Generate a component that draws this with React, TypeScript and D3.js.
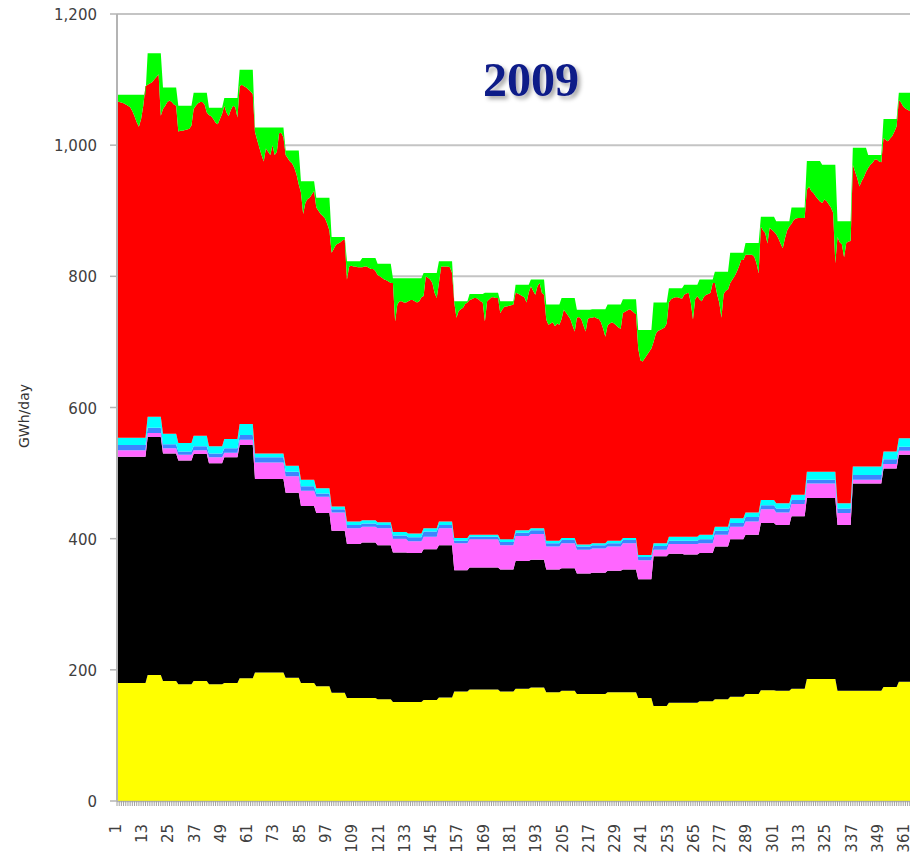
import React, { useRef, useEffect } from 'react';
import * as d3 from 'd3';

// weekly levels (top of each stacked band, GWh/day), week 1 = days 1-7
const yellowTop = [180, 180, 192, 183, 178, 183, 178, 180, 187, 196, 196, 188, 180, 175, 165, 157, 157, 155, 151, 151, 154, 158, 167, 170, 170, 167, 171, 173, 166, 168, 163, 163, 166, 166, 157, 145, 150, 150, 152, 155, 159, 163, 169, 168, 171, 186, 186, 168, 168, 168, 174, 182, 182];
const blackTop = [525, 525, 555, 530, 519, 529, 515, 524, 543, 491, 491, 470, 450, 439, 412, 392, 394, 390, 379, 378, 384, 390, 352, 356, 356, 353, 366, 368, 353, 355, 347, 348, 351, 353, 338, 373, 377, 376, 378, 388, 399, 406, 424, 421, 434, 462, 462, 421, 484, 484, 507, 528, 528];
const pinkTop = [535, 535, 561, 538, 528, 535, 524, 531, 551, 516, 516, 495, 473, 464, 440, 416, 418, 416, 400, 396, 403, 416, 393, 399, 399, 390, 404, 407, 388, 393, 383, 385, 388, 393, 367, 383, 392, 392, 393, 406, 418, 426, 445, 440, 453, 484, 484, 439, 490, 490, 514, 534, 534];
const blueTop = [543, 543, 569, 544, 533, 541, 530, 538, 558, 524, 524, 502, 480, 469, 445, 421, 423, 421, 405, 402, 411, 421, 397, 403, 403, 395, 409, 413, 393, 398, 388, 390, 393, 398, 372, 389, 397, 397, 399, 412, 424, 433, 451, 446, 459, 490, 490, 446, 497, 497, 521, 540, 540];
const cyanTop = [554, 554, 586, 560, 546, 557, 541, 552, 575, 530, 530, 511, 490, 477, 449, 426, 428, 425, 410, 408, 416, 426, 401, 406, 406, 399, 413, 416, 397, 401, 391, 393, 397, 401, 375, 393, 403, 403, 406, 418, 431, 440, 459, 454, 467, 502, 502, 454, 510, 510, 533, 553, 553];
const greenTop = [1077, 1077, 1140, 1088, 1060, 1080, 1057, 1072, 1115, 1027, 1027, 992, 945, 920, 860, 823, 828, 819, 797, 797, 805, 823, 762, 773, 775, 762, 787, 795, 757, 767, 749, 750, 757, 765, 718, 760, 782, 787, 795, 807, 836, 851, 891, 884, 905, 976, 970, 884, 996, 985, 1040, 1080, 1080];

// daily top of the red band
const redTop = [
  1067, 1066, 1065, 1064, 1062, 1060, 1058,
  1052, 1044, 1035, 1028, 1040, 1060, 1090,
  1092, 1094, 1096, 1100, 1104, 1108, 1045,
  1055, 1060, 1066, 1068, 1066, 1062, 1060,
  1021, 1022, 1022, 1023, 1024, 1025, 1030,
  1055, 1060, 1064, 1066, 1066, 1062, 1050,
  1046, 1044, 1040, 1034, 1032, 1040, 1048,
  1060, 1050, 1044, 1054, 1060, 1058, 1042,
  1090, 1092, 1090, 1088, 1085, 1082, 1078,
  1020, 1008, 996, 985, 975, 995, 990,
  985, 1000, 985, 990, 1018, 1019, 1012,
  985, 980, 975, 972, 965, 955, 940,
  928, 895, 912, 918, 920, 925, 930,
  905, 900, 895, 892, 888, 880, 870,
  836, 842, 848, 850, 852, 855, 856,
  795, 815, 816, 815, 815, 814, 814,
  814, 815, 815, 813, 811, 811, 808,
  802, 800, 798, 795, 794, 792, 790,
  790, 731, 757, 762, 762, 760, 760,
  762, 764, 764, 762, 760, 762, 768,
  770, 800, 798, 795, 790, 775, 767,
  790, 815, 815, 815, 815, 814, 805,
  760, 737, 747, 750, 752, 758, 760,
  764, 765, 767, 767, 765, 762, 760,
  731, 762, 765, 768, 768, 767, 767,
  744, 750, 754, 754, 755, 756, 757,
  775, 774, 772, 770, 768, 760, 775,
  785, 778, 772, 785, 790, 775, 772,
  734, 726, 728, 730, 724, 728, 726,
  735, 749, 745, 740, 735, 725, 716,
  737, 738, 735, 725, 716, 735, 737,
  737, 738, 736, 735, 730, 720, 708,
  725, 728, 730, 728, 725, 722, 720,
  744, 746, 748, 750, 748, 745, 742,
  690, 672, 670, 675, 680, 685, 690,
  700, 712, 717, 718, 720, 722, 728,
  760, 765, 767, 768, 768, 767, 766,
  772, 774, 775, 760, 734, 765, 770,
  765, 762, 769, 772, 773, 775, 790,
  790, 773, 760, 737, 773, 778, 780,
  790, 795, 800, 807, 815, 825, 825,
  833, 833, 833, 833, 830, 820, 805,
  876, 870, 866, 850, 874, 871, 868,
  864, 858, 850, 843, 858, 870, 876,
  880, 886, 888, 889, 889, 889, 889,
  932, 937, 930, 927, 922, 918, 914,
  912, 917, 915, 910, 905, 897, 820,
  860, 852, 849, 829, 851, 853, 854,
  970, 960, 950, 937, 945, 951, 959,
  965, 970, 973, 978, 978, 975, 974,
  1011, 1008, 1006, 1010, 1014, 1021, 1029,
  1069, 1065, 1059, 1056, 1054, 1052, 1050,
  1050,
];

const dayLabels = [1, 13, 25, 37, 49, 61, 73, 85, 97, 109, 121, 133, 145, 157, 169, 181, 193, 205, 217, 229, 241, 253, 265, 277, 289, 301, 313, 325, 337, 349, 361];
const valueTicks = [0, 200, 400, 600, 800, 1000, 1200];

export default function App() {
  const svgRef = useRef<SVGSVGElement>(null);

  useEffect(() => {
    if (!svgRef.current) return;
    const svg = d3.select(svgRef.current);
    svg.selectAll('*').remove();

    const left = 117;
    const x = d3.scaleLinear().domain([1, 365]).range([left, left + 364 * 2.19]);
    const y = d3.scaleLinear().domain([0, 1200]).range([801, 14]);

    const days = d3.range(1, redTop.length + 1);
    const weekly = (arr: number[]) => (d: number) => arr[Math.floor((d - 1) / 7)];
    const daily = (arr: number[]) => (d: number) => arr[d - 1];
    const zero = () => 0;

    const bands = [
      { lo: zero, hi: weekly(yellowTop), color: '#ffff00' },
      { lo: weekly(yellowTop), hi: weekly(blackTop), color: '#000000' },
      { lo: weekly(blackTop), hi: weekly(pinkTop), color: '#ff66ff' },
      { lo: weekly(pinkTop), hi: weekly(blueTop), color: '#3d85ff' },
      { lo: weekly(blueTop), hi: weekly(cyanTop), color: '#00ffff' },
      { lo: weekly(cyanTop), hi: daily(redTop), color: '#ff0000' },
      { lo: daily(redTop), hi: weekly(greenTop), color: '#00ff00' },
    ];

    // gridlines
    svg.append('g')
      .selectAll('line')
      .data(valueTicks.filter(v => v > 0))
      .enter()
      .append('line')
      .attr('x1', left)
      .attr('x2', 930)
      .attr('y1', d => y(d))
      .attr('y2', d => y(d))
      .attr('stroke', '#c4c4c4')
      .attr('stroke-width', 2);

    // stacked areas
    const g = svg.append('g');
    bands.forEach(b => {
      const area = d3.area<number>()
        .x(d => x(d))
        .y0(d => y(b.lo(d)))
        .y1(d => y(b.hi(d)));
      g.append('path')
        .attr('d', area(days) || '')
        .attr('fill', b.color);
    });

    // y axis
    svg.append('line')
      .attr('x1', left).attr('x2', left)
      .attr('y1', y(1200)).attr('y2', y(0))
      .attr('stroke', '#b4b4b4').attr('stroke-width', 2);

    const yAxis = svg.append('g');
    yAxis.selectAll('line')
      .data(valueTicks)
      .enter()
      .append('line')
      .attr('x1', left - 7).attr('x2', left)
      .attr('y1', d => y(d)).attr('y2', d => y(d))
      .attr('stroke', '#b4b4b4').attr('stroke-width', 1.5);
    yAxis.selectAll('text')
      .data(valueTicks)
      .enter()
      .append('text')
      .attr('x', 97)
      .attr('y', d => y(d))
      .attr('dy', '0.4em')
      .attr('text-anchor', 'end')
      .style('font-family', 'DejaVu Sans, sans-serif')
      .style('font-size', '15px')
      .style('fill', '#404040')
      .text(d => d3.format(',')(d));

    // x axis
    svg.append('line')
      .attr('x1', left).attr('x2', 930)
      .attr('y1', 801.5).attr('y2', 801.5)
      .attr('stroke', '#b4b4b4').attr('stroke-width', 1.5);
    svg.append('g')
      .selectAll('line')
      .data(days)
      .enter()
      .append('line')
      .attr('x1', d => x(d)).attr('x2', d => x(d))
      .attr('y1', 801).attr('y2', 806)
      .attr('stroke', '#a0a0a0').attr('stroke-width', 1);
    svg.append('g')
      .selectAll('text')
      .data(dayLabels)
      .enter()
      .append('text')
      .attr('transform', d => `translate(${x(d)},824) rotate(-90)`)
      .attr('dy', '0.25em')
      .attr('text-anchor', 'end')
      .style('font-family', 'DejaVu Sans, sans-serif')
      .style('font-size', '15px')
      .style('fill', '#404040')
      .text(d => d);

    // axis title
    svg.append('text')
      .attr('transform', 'translate(29,416) rotate(-90)')
      .attr('text-anchor', 'middle')
      .style('font-family', 'DejaVu Sans, sans-serif')
      .style('font-size', '14px')
      .style('fill', '#333')
      .text('GWh/day');

    // year title with shadow
    const defs = svg.append('defs');
    defs.append('filter')
      .attr('id', 'shadow')
      .attr('x', '-20%').attr('y', '-20%').attr('width', '140%').attr('height', '140%')
      .append('feDropShadow')
      .attr('dx', 3).attr('dy', 3).attr('stdDeviation', 2)
      .attr('flood-color', '#000').attr('flood-opacity', 0.35);
    svg.append('text')
      .attr('x', 531)
      .attr('y', 96)
      .attr('text-anchor', 'middle')
      .attr('filter', 'url(#shadow)')
      .style('font-family', 'Liberation Serif, serif')
      .style('font-weight', 'bold')
      .style('font-size', '48px')
      .style('fill', '#0f1a88')
      .text('2009');
  }, []);

  return (
    <div style={{ position: 'absolute', left: 0, top: 0, width: 910, height: 859, overflow: 'hidden', background: '#fff' }}>
      <svg ref={svgRef} width={930} height={880} style={{ display: 'block' }} />
    </div>
  );
}
